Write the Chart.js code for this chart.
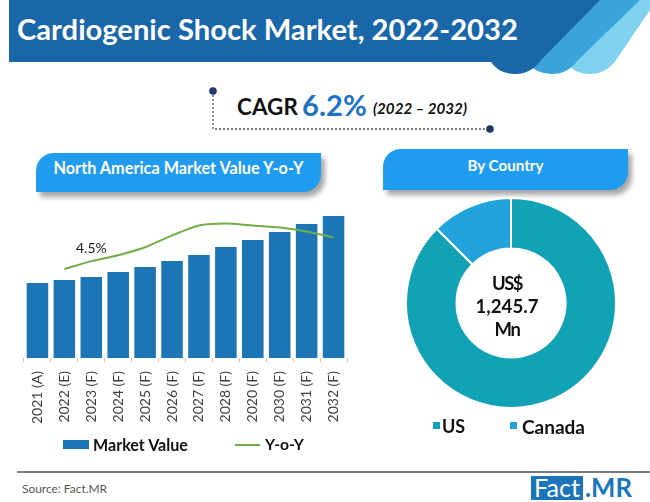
<!DOCTYPE html>
<html>
<head>
<meta charset="utf-8">
<script src="https://cdn.jsdelivr.net/npm/chart.js@4.4.0/dist/chart.umd.min.js"></script>
<style>
  html, body { margin:0; padding:0; background:#fff; }
  body { width:650px; height:502px; position:relative; overflow:hidden; font-family:Lato, "Open Sans", sans-serif; }
  .abs { position:absolute; white-space:nowrap; }
  .t { position:absolute; white-space:nowrap; line-height:1; transform:translateY(-50%); }
  .fit { display:inline-block; }
  .hdr { position:absolute; background:#1f9bef; border-radius:18px 0 18px 0; box-shadow:4px 5px 5px rgba(0,0,0,0.35); }
</style>
</head>
<body>
<script>
// ---------- DATA ----------
const years = ["2021 (A)","2022 (E)","2023 (F)","2024 (F)","2025 (F)","2026 (F)","2027 (F)","2028 (F)","2020 (F)","2030 (F)","2031 (F)","2032 (F)"];
const marketValue = [658, 684, 711, 754, 798, 851, 904, 974, 1035, 1105, 1176, 1245.7];
const yoyGrowth = [null, 4.5, 4.9, 5.2, 5.6, 6.2, 6.7, 6.8, 6.7, 6.6, 6.4, 6.1];
const countries = ["US", "Canada"];
const countryShare = [87.5, 12.5];
</script>

<svg class="abs" style="left:0;top:0" width="650" height="80">
  <path d="M540 0 L650 0 L650 10 L616 60 Q606 74 590 74 Q574 74 566 62 Z" fill="#7fd1ef"/>
  <path d="M500 0 L640 0 L578 60 Q568 74 552 74 Q536 74 528 63 Z" fill="#3aa3da"/>
  <path d="M9 0 L600 0 L541 60 Q531 74 515 74 Q499 74 491 62 L9 62 Z" fill="#1966a8"/>
</svg>
<div class="t" style="left:17px;top:29px;color:#fff;font-weight:700;font-size:27px;"><span class="fit" data-w="501">Cardiogenic Shock Market, 2022-2032</span></div>

<svg class="abs" style="left:0;top:80px" width="650" height="60">
  <path d="M213 11 L213 49 L490 49" fill="none" stroke="#555" stroke-width="1.3" stroke-dasharray="2,2"/>
  <circle cx="213" cy="11" r="3.8" fill="#1f3864"/>
  <circle cx="490" cy="49" r="3.8" fill="#1f3864"/>
</svg>
<div class="t" style="left:237px;top:107px;font-weight:700;font-size:20px;color:#111;"><span class="fit" data-w="61">CAGR</span></div>
<div class="t" style="left:302px;top:105px;font-weight:700;font-size:26px;color:#1f73c4;"><span class="fit" data-w="65">6.2%</span></div>
<div class="t" style="left:373px;top:109px;font-weight:700;font-style:italic;font-size:14px;color:#111;"><span class="fit" data-w="94">(2022 – 2032)</span></div>

<div class="hdr" style="left:36px;top:153px;width:285px;height:39px;"></div>
<div class="t" style="left:36px;width:285px;top:168px;text-align:center;color:#fff;font-weight:700;font-size:14.5px;"><span class="fit" data-w="250">North America Market Value Y-o-Y</span></div>
<div class="hdr" style="left:383px;top:149px;width:245px;height:41px;"></div>
<div class="t" style="left:383px;width:245px;top:166px;text-align:center;color:#fff;font-weight:700;font-size:15px;"><span class="fit" data-w="76">By Country</span></div>

<div class="abs" style="left:0;top:150px;width:360px;height:290px;"><canvas id="bar" width="360" height="290"></canvas></div>
<div class="abs" style="left:404px;top:196px;width:214px;height:214px;"><canvas id="donut" width="214" height="214"></canvas></div>

<div class="t" style="left:457px;width:100px;top:283px;text-align:center;font-weight:700;font-size:21px;color:#111;"><span class="fit" data-w="30">US$</span></div>
<div class="t" style="left:457px;width:100px;top:306px;text-align:center;font-weight:700;font-size:21px;color:#111;"><span class="fit" data-w="63">1,245.7</span></div>
<div class="t" style="left:457px;width:100px;top:329px;text-align:center;font-weight:700;font-size:21px;color:#111;"><span class="fit" data-w="25">Mn</span></div>

<!-- bar legend -->
<div class="abs" style="left:63px;top:440px;width:26px;height:9px;background:#1c75b5;"></div>
<div class="t" style="left:93px;top:445px;font-weight:700;font-size:17px;color:#111;"><span class="fit" data-w="95">Market Value</span></div>
<div class="abs" style="left:235px;top:444px;width:25px;height:2px;background:#70ad47;"></div>
<div class="t" style="left:265px;top:445px;font-weight:700;font-size:17px;color:#111;"><span class="fit" data-w="39">Y-o-Y</span></div>

<!-- donut legend -->
<div class="abs" style="left:433px;top:422px;width:7px;height:7px;background:#12a2b6;"></div>
<div class="t" style="left:442px;top:426px;font-weight:700;font-size:18px;color:#111;">US</div>
<div class="abs" style="left:510px;top:422px;width:7px;height:7px;background:#23a3dc;"></div>
<div class="t" style="left:522px;top:426px;font-weight:700;font-size:18px;color:#111;"><span class="fit" data-w="63">Canada</span></div>

<div class="abs" style="left:17px;top:471px;width:633px;height:2px;background:#7a7a7a;"></div>
<div class="t" style="left:22px;top:489px;font-size:12px;color:#555;"><span class="fit" data-w="85">Source: Fact.MR</span></div>
<div class="abs" style="left:531px;top:476px;width:52px;height:24px;background:#1b75bb;"></div>
<div class="t" style="left:531px;width:52px;top:488px;text-align:center;color:#fff;font-size:23px;"><span class="fit" data-w="46">Fact</span></div>
<div class="t" style="left:585px;top:488px;color:#1b75bb;font-weight:700;font-size:23px;"><span class="fit" data-w="47">.MR</span></div>

<script>
// fit text widths: font-size first (bounded), then letter-spacing
document.querySelectorAll('.fit').forEach(el => {
  const target = parseFloat(el.dataset.w);
  const n = el.textContent.length;
  const host = el.parentElement;
  const fs = parseFloat(getComputedStyle(host).fontSize);
  let w = el.getBoundingClientRect().width;
  const k = Math.max(0.88, Math.min(1.12, target / w));
  host.style.fontSize = (fs * k).toFixed(2) + 'px';
  w = el.getBoundingClientRect().width;
  let ls = (target - w) / Math.max(n, 1);
  ls = Math.max(-1.5, Math.min(2, ls));
  el.style.letterSpacing = ls.toFixed(2) + 'px';
});

const labelPlugin = {
  id: 'yoyLabel',
  afterDatasetsDraw(chart) {
    const meta = chart.getDatasetMeta(1);
    const pt = meta.data[1];
    if (!pt) return;
    const ctx = chart.ctx;
    ctx.save();
    ctx.font = '14px Lato, sans-serif';
    ctx.fillStyle = '#1a1a1a';
    ctx.textAlign = 'center';
    ctx.textBaseline = 'middle';
    ctx.fillText(yoyGrowth[1] + '%', pt.x + 27, pt.y - 21);
    ctx.restore();
  }
};

new Chart(document.getElementById('bar'), {
  type: 'bar',
  data: {
    labels: years,
    datasets: [
      { type: 'bar', label: 'Market Value', data: marketValue, backgroundColor: '#1c75b5', yAxisID: 'y', order: 2, barPercentage: 0.8, categoryPercentage: 1.0 },
      { type: 'line', label: 'Y-o-Y', data: yoyGrowth, borderColor: '#70ad47', borderWidth: 2, pointRadius: 0, tension: 0.2, fill: false, yAxisID: 'y2', order: 1 }
    ]
  },
  options: {
    responsive: false,
    animation: false,
    layout: { padding: { left: 24, right: 13, top: 37, bottom: 12 } },
    plugins: { legend: { display: false }, tooltip: { enabled: false } },
    scales: {
      x: {
        afterFit: (s) => { s.height = 70; },
        grid: { display: true, drawOnChartArea: false, drawTicks: true, tickLength: 4, color: '#d6c2b6', offset: true },
        border: { display: false },
        ticks: { maxRotation: 90, minRotation: 90, padding: 9, color: '#404040', font: { family: 'Lato, sans-serif', size: 14 } }
      },
      y: { display: false, min: 0, max: 1500 },
      y2: { display: false, min: 0, max: 8.65 }
    }
  },
  plugins: [labelPlugin]
});

new Chart(document.getElementById('donut'), {
  type: 'doughnut',
  data: {
    labels: countries,
    datasets: [{ data: countryShare, backgroundColor: ['#12a2b6', '#23a3dc'], borderColor: '#ffffff', borderWidth: 2 }]
  },
  options: {
    responsive: false,
    animation: false,
    radius: 105,
    cutout: 55,
    layout: { padding: 0 },
    plugins: { legend: { display: false }, tooltip: { enabled: false } }
  }
});
</script>
</body>
</html>
